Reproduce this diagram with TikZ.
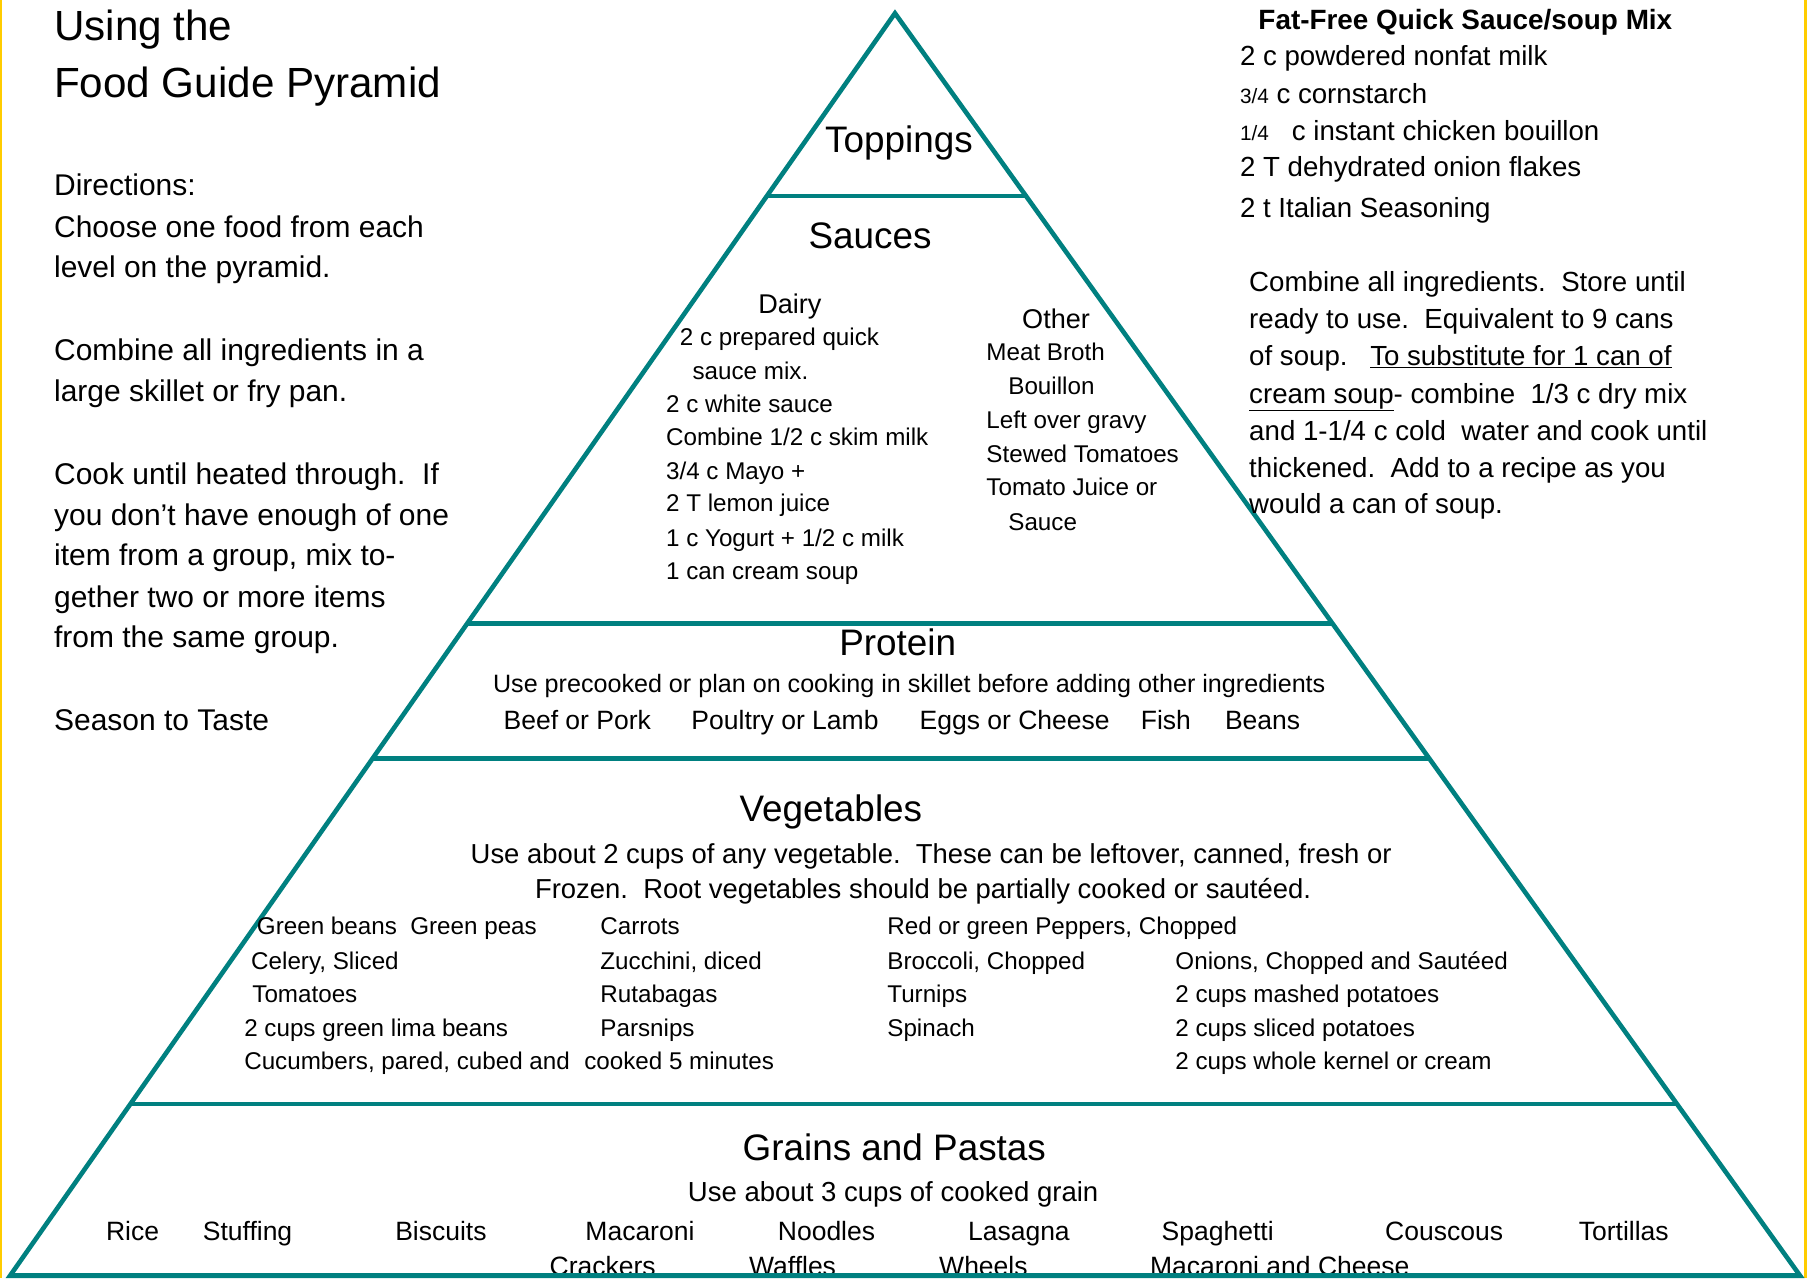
\documentclass[tikz,border=0pt]{standalone}
\usepackage{fontspec}
\setmainfont{Liberation Sans}
\usetikzlibrary{calc}
\definecolor{pyrteal}{RGB}{0,128,128}
\definecolor{edgeyellow}{RGB}{255,204,0}
\newcommand{\smallfrac}[1]{{\fontsize{18}{20}\selectfont #1}}
\begin{document}
\begin{tikzpicture}[x=1pt,y=-1pt,
  lt/.style={anchor=base west,inner sep=0pt,outer sep=0pt},
  ct/.style={anchor=base,inner sep=0pt,outer sep=0pt},
  titlef/.style={font=\fontsize{36.6}{40}\selectfont},
  dirf/.style={font=\fontsize{26}{30}\selectfont},
  boldf/.style={font=\fontsize{24.2}{26}\selectfont\bfseries},
  rightf/.style={font=\fontsize{24}{28}\selectfont},
  headf/.style={font=\fontsize{32}{36}\selectfont},
  subheadf/.style={font=\fontsize{23.5}{26}\selectfont},
  listf/.style={font=\fontsize{21}{24}\selectfont},
  instrf/.style={font=\fontsize{23}{26}\selectfont},
  vinstrf/.style={font=\fontsize{23.8}{26}\selectfont},
  pyr/.style={draw=pyrteal,line width=4pt},
]
% canvas and borders
\path[use as bounding box,fill=white] (0,0) rectangle (1568,1109);
\fill[edgeyellow] (0,0) rectangle (2,1109);
\fill[edgeyellow] (1565,0) rectangle (1568,1109);

% pyramid
\coordinate (apex) at (776.6,11.5);
\coordinate (bl) at (8.7,1107);
\coordinate (br) at (1562,1107);
\draw[pyr,line join=miter,miter limit=20] (bl) -- (apex) -- (br) -- cycle;
\coordinate (l1) at ($(apex)!0.1447!(bl)$);
\coordinate (r1) at ($(apex)!0.1447!(br)$);
\coordinate (l2) at ($(apex)!0.4833!(bl)$);
\coordinate (r2) at ($(apex)!0.4833!(br)$);
\coordinate (l3) at ($(apex)!0.5902!(bl)$);
\coordinate (r3) at ($(apex)!0.5902!(br)$);
\coordinate (l4) at ($(apex)!0.8640!(bl)$);
\coordinate (r4) at ($(apex)!0.8640!(br)$);
\draw[pyr] (l1) -- (r1);
\draw[pyr] (l2) -- (r2);
\draw[pyr] (l3) -- (r3);
\draw[pyr] (l4) -- (r4);

% title
\node[lt,titlef] (t1) at (47,35) {Using the};
\node[lt,titlef] (t2) at (47,85) {Food Guide Pyramid};

% directions
\node[lt,dirf] (d1) at (47,170) {Directions:};
\node[lt,dirf] (d2) at (47,206) {Choose one food from each};
\node[lt,dirf] (d3) at (47,241) {level on the pyramid.};
\node[lt,dirf] (d4) at (47,313) {Combine all ingredients in a};
\node[lt,dirf] (d5) at (47,348) {large skillet or fry pan.};
\node[lt,dirf] (d6) at (47,420) {Cook until heated through.\ \ If};
\node[lt,dirf] (d7) at (47,456) {you don't have enough of one};
\node[lt,dirf] (d8) at (47,491) {item from a group, mix to-};
\node[lt,dirf] (d9) at (47,527) {gether two or more items};
\node[lt,dirf] (d10) at (47,562) {from the same group.};
\node[lt,dirf] (d11) at (47,634) {Season to Taste};

% right recipe
\node[lt,boldf] (r0) at (1092,26) {Fat-Free Quick Sauce/soup Mix};
\node[lt,rightf] (ri1) at (1076,57) {2 c powdered nonfat milk};
\node[lt,rightf] (ri2) at (1076,90) {\smallfrac{3/4} c cornstarch};
\node[lt,rightf] (ri3) at (1076,122) {\smallfrac{1/4}\ \ \ c instant chicken bouillon};
\node[lt,rightf] (ri4) at (1076,153) {2 T dehydrated onion flakes};
\node[lt,rightf] (ri5) at (1076,189) {2 t Italian Seasoning};
\node[lt,rightf] (rp1) at (1084,253) {Combine all ingredients.\ \ Store until};
\node[lt,rightf] (rp2) at (1084,285) {ready to use.\ \ Equivalent to 9 cans};
\node[lt,rightf] (rp3) at (1084,317) {of soup.};
\node[lt,rightf] (rp3b) at (1189,317) {\underline{To substitute for 1 can of}};
\node[lt,rightf] (rp4) at (1084,350) {\underline{cream soup}- combine\ \ 1/3 c dry mix};
\node[lt,rightf] (rp5) at (1084,382) {and 1-1/4 c cold\ \ water and cook until};
\node[lt,rightf] (rp6) at (1084,414) {thickened.\ \ Add to a recipe as you};
\node[lt,rightf] (rp7) at (1084,446) {would a can of soup.};

% toppings and sauces
\node[ct,headf] (top) at (780,132) {Toppings};
\node[ct,headf] (sau) at (755,216) {Sauces};
\node[lt,subheadf] (dairy) at (658,272) {Dairy};
\node[lt,listf] (da1) at (590,300) {2 c prepared quick};
\node[lt,listf] (da2) at (601,329) {sauce mix.};
\node[lt,listf] (da3) at (578,358) {2 c white sauce};
\node[lt,listf] (da4) at (578,387) {Combine 1/2 c skim milk};
\node[lt,listf] (da5) at (578,416) {3/4 c Mayo +};
\node[lt,listf] (da6) at (578,444) {2 T lemon juice};
\node[lt,listf] (da7) at (578,474) {1 c Yogurt + 1/2 c milk};
\node[lt,listf] (da8) at (578,503) {1 can cream soup};
\node[lt,subheadf] (other) at (887,285) {Other};
\node[lt,listf] (ot1) at (856,313) {Meat Broth};
\node[lt,listf] (ot2) at (875,342) {Bouillon};
\node[lt,listf] (ot3) at (856,372) {Left over gravy};
\node[lt,listf] (ot4) at (856,401) {Stewed Tomatoes};
\node[lt,listf] (ot5) at (856,430) {Tomato Juice or};
\node[lt,listf] (ot6) at (875,460) {Sauce};

% protein
\node[ct,headf] (pro) at (779,569) {Protein};
\node[ct,font=\fontsize{21.8}{24}\selectfont] (pro1) at (789,601) {Use precooked or plan on cooking in skillet before adding other ingredients};
\node[lt,instrf] (pb1) at (437,633) {Beef or Pork};
\node[lt,instrf] (pb2) at (600,633) {Poultry or Lamb};
\node[lt,instrf] (pb3) at (798,633) {Eggs or Cheese};
\node[lt,instrf] (pb4) at (990,633) {Fish};
\node[lt,instrf] (pb5) at (1063,633) {Beans};

% vegetables
\node[ct,headf] (veg) at (721,713) {Vegetables};
\node[ct,vinstrf] (vi1) at (808,749) {Use about 2 cups of any vegetable.\ \ These can be leftover, canned, fresh or};
\node[ct,vinstrf] (vi2) at (801,780) {Frozen.\ \ Root vegetables should be partially cooked or sautéed.};
\node[lt,listf] (va1) at (223,811) {Green beans\ \ Green peas};
\node[lt,listf] (va2) at (218,841) {Celery, Sliced};
\node[lt,listf] (va3) at (219,870) {Tomatoes};
\node[lt,listf] (va4) at (212,899) {2 cups green lima beans};
\node[lt,listf] (va5) at (212,928) {Cucumbers, pared, cubed and};
\node[lt,listf] (vb1) at (521,811) {Carrots};
\node[lt,listf] (vb2) at (521,841) {Zucchini, diced};
\node[lt,listf] (vb3) at (521,870) {Rutabagas};
\node[lt,listf] (vb4) at (521,899) {Parsnips};
\node[lt,listf] (vb5) at (507,928) {cooked 5 minutes};
\node[lt,listf] (vc1) at (770,811) {Red or green Peppers, Chopped};
\node[lt,listf] (vc2) at (770,841) {Broccoli, Chopped};
\node[lt,listf] (vc3) at (770,870) {Turnips};
\node[lt,listf] (vc4) at (770,899) {Spinach};
\node[lt,listf] (vd2) at (1020,841) {Onions, Chopped and Sautéed};
\node[lt,listf] (vd3) at (1020,870) {2 cups mashed potatoes};
\node[lt,listf] (vd4) at (1020,899) {2 cups sliced potatoes};
\node[lt,listf] (vd5) at (1020,928) {2 cups whole kernel or cream};

% grains
\node[ct,headf] (gra) at (776,1007) {Grains and Pastas};
\node[ct,font=\fontsize{23.9}{26}\selectfont] (gi) at (775,1043) {Use about 3 cups of cooked grain};
\node[lt,instrf] (g1) at (92,1076) {Rice};
\node[lt,instrf] (g2) at (176,1076) {Stuffing};
\node[lt,instrf] (g3) at (343,1076) {Biscuits};
\node[lt,instrf] (g4) at (508,1076) {Macaroni};
\node[lt,instrf] (g5) at (675,1076) {Noodles};
\node[lt,instrf] (g6) at (840,1076) {Lasagna};
\node[lt,instrf] (g7) at (1008,1076) {Spaghetti};
\node[lt,instrf] (g8) at (1202,1076) {Couscous};
\node[lt,instrf] (g9) at (1370,1076) {Tortillas};
\node[lt,instrf] (h1) at (477,1107) {Crackers};
\node[lt,instrf] (h2) at (650,1107) {Waffles};
\node[lt,instrf] (h3) at (815,1107) {Wheels};
\node[lt,instrf] (h4) at (998,1107) {Macaroni and Cheese};
\draw[pyr] (bl) -- (br);
\end{tikzpicture}
\end{document}
